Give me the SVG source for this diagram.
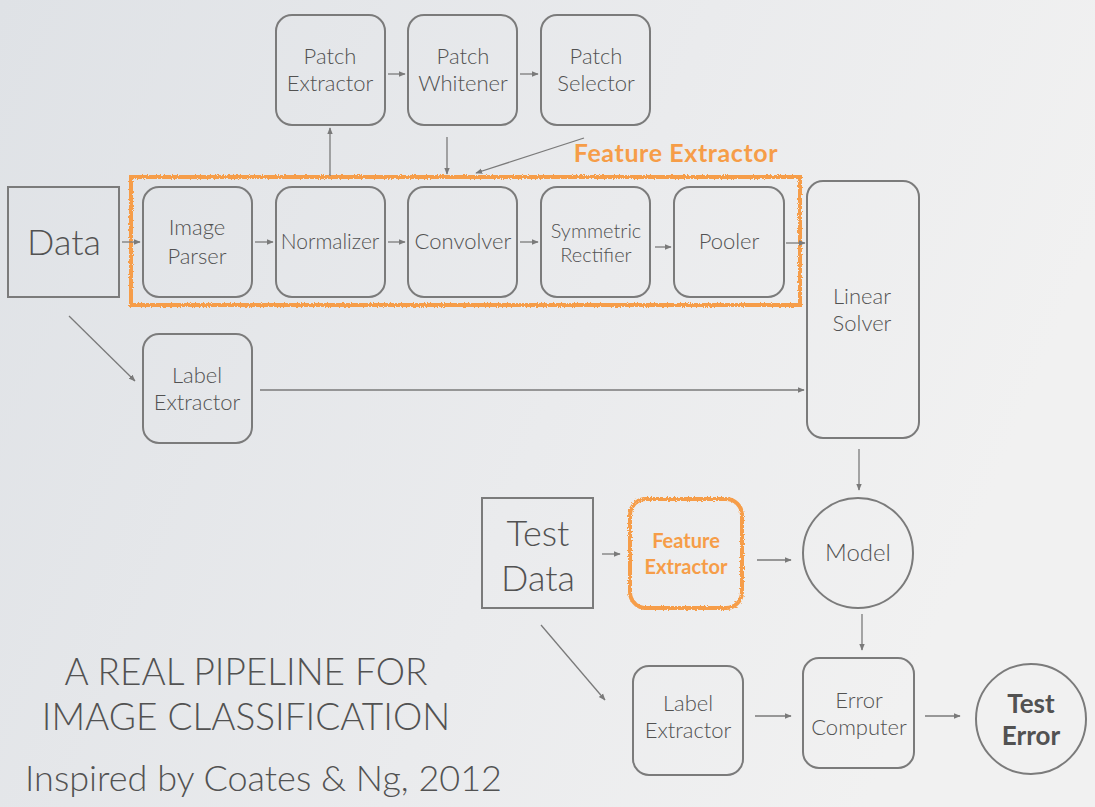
<svg xmlns="http://www.w3.org/2000/svg" width="1095" height="807" viewBox="0 0 1095 807">
<defs>
<linearGradient id="bg" x1="0" y1="0" x2="1" y2="0.3">
<stop offset="0" stop-color="#dfe2e6"/>
<stop offset="0.6" stop-color="#eaebed"/>
<stop offset="1" stop-color="#f1f1f1"/>
</linearGradient>
<marker id="ah" viewBox="0 0 10 10" refX="9" refY="5" markerWidth="7" markerHeight="7" markerUnits="userSpaceOnUse" orient="auto">
<path d="M0,1 L10,5 L0,9 z" fill="#7a7a7a"/>
</marker>
<filter id="rough" x="-5%" y="-5%" width="110%" height="110%">
<feTurbulence type="fractalNoise" baseFrequency="0.7" numOctaves="2" seed="3"/>
<feDisplacementMap in="SourceGraphic" scale="3.5"/>
</filter>
<style>
.box{fill:none;stroke:#7b7b7b;stroke-width:2}
.t{font-family:Lato,"Open Sans","DejaVu Sans",sans-serif;font-weight:300;fill:#525252;text-anchor:middle}
.n{font-size:22px}
.big{font-size:36px}
.or{fill:none;stroke:#f69d48;stroke-width:4}
.ot{font-family:Lato,"Open Sans","DejaVu Sans",sans-serif;font-weight:bold;fill:#f69d48;text-anchor:middle}
.c{stroke:#7a7a7a;stroke-width:1.3;fill:none;marker-end:url(#ah)}
</style>
</defs>
<rect x="0" y="0" width="1095" height="807" fill="url(#bg)"/>

<g id="feature-extractor-frame">
<rect class="or" x="131" y="177" width="669" height="128" filter="url(#rough)"/>
<text class="ot" x="676" y="162" font-size="25" letter-spacing="0.6">Feature Extractor</text>
</g>

<g id="patch-extractor"><rect class="box" x="276" y="15" width="109" height="110" rx="16"/><text class="t n" x="330" y="64">Patch</text><text class="t n" x="330" y="91">Extractor</text></g>
<g id="patch-whitener"><rect class="box" x="408" y="15" width="109" height="110" rx="16"/><text class="t n" x="463" y="64">Patch</text><text class="t n" x="463" y="91">Whitener</text></g>
<g id="patch-selector"><rect class="box" x="541" y="15" width="109" height="110" rx="16"/><text class="t n" x="596" y="64">Patch</text><text class="t n" x="596" y="91">Selector</text></g>

<g id="data"><rect class="box" x="8" y="187" width="111" height="110"/><text class="t big" x="64" y="255">Data</text></g>
<g id="image-parser"><rect class="box" x="143" y="187" width="109" height="110" rx="16"/><text class="t n" x="197" y="235">Image</text><text class="t n" x="197" y="264">Parser</text></g>
<g id="normalizer"><rect class="box" x="276" y="187" width="109" height="110" rx="16"/><text class="t" font-size="21" x="330" y="249">Normalizer</text></g>
<g id="convolver"><rect class="box" x="408" y="187" width="109" height="110" rx="16"/><text class="t n" x="463" y="249">Convolver</text></g>
<g id="symmetric-rectifier"><rect class="box" x="541" y="187" width="109" height="110" rx="16"/><text class="t" font-size="20" x="596" y="238">Symmetric</text><text class="t" font-size="20" x="596" y="262">Rectifier</text></g>
<g id="pooler"><rect class="box" x="674" y="187" width="110" height="110" rx="16"/><text class="t n" x="729" y="249">Pooler</text></g>
<g id="linear-solver"><rect class="box" x="807" y="181" width="112" height="257" rx="16"/><text class="t n" x="862" y="304">Linear</text><text class="t n" x="862" y="331">Solver</text></g>
<g id="label-extractor-1"><rect class="box" x="143" y="334" width="109" height="109" rx="16"/><text class="t n" x="197" y="383">Label</text><text class="t n" x="197" y="410">Extractor</text></g>

<g id="test-data"><rect class="box" x="482" y="498" width="111" height="110"/><text class="t big" x="538" y="546">Test</text><text class="t big" x="538" y="591">Data</text></g>
<g id="feature-extractor-2"><rect class="or" x="630" y="499" width="112" height="109" rx="16" filter="url(#rough)"/><text class="ot" font-size="20" x="686" y="548">Feature</text><text class="ot" font-size="20" x="686" y="574">Extractor</text></g>
<g id="model"><circle class="box" cx="858" cy="553" r="55"/><text class="t" font-size="24" x="858" y="561">Model</text></g>
<g id="label-extractor-2"><rect class="box" x="633" y="666" width="110" height="109" rx="16"/><text class="t n" x="688" y="711">Label</text><text class="t n" x="688" y="738">Extractor</text></g>
<g id="error-computer"><rect class="box" x="803" y="658" width="111" height="110" rx="16"/><text class="t n" x="859" y="708">Error</text><text class="t n" x="859" y="735">Computer</text></g>
<g id="test-error"><circle class="box" cx="1031" cy="719" r="55"/><text class="t" font-size="26" style="font-weight:bold" x="1031" y="713">Test</text><text class="t" font-size="26" style="font-weight:bold" x="1031" y="745">Error</text></g>

<g id="title">
<text class="t" font-size="37" x="246" y="685">A REAL PIPELINE FOR</text>
<text class="t" font-size="37" x="246" y="730">IMAGE CLASSIFICATION</text>
<text class="t" font-size="36" x="25" y="791" style="text-anchor:start">Inspired by Coates &amp; Ng, 2012</text>
</g>

<g id="connectors">
<line class="c" x1="122" y1="242" x2="140" y2="242"/>
<line class="c" x1="255" y1="242" x2="273" y2="242"/>
<line class="c" x1="388" y1="242" x2="405" y2="242"/>
<line class="c" x1="520" y1="242" x2="538" y2="242"/>
<line class="c" x1="655" y1="247" x2="671" y2="247"/>
<line class="c" x1="786" y1="243" x2="805" y2="243"/>
<line class="c" x1="330" y1="176" x2="330" y2="128"/>
<line class="c" x1="388" y1="74" x2="405" y2="74"/>
<line class="c" x1="520" y1="74" x2="538" y2="74"/>
<line class="c" x1="447" y1="137" x2="447" y2="174"/>
<line class="c" x1="584" y1="138" x2="476" y2="173"/>
<line class="c" x1="69" y1="316" x2="135" y2="381"/>
<line class="c" x1="260" y1="390" x2="804" y2="390"/>
<line class="c" x1="859" y1="449" x2="859" y2="490"/>
<line class="c" x1="602" y1="554" x2="620" y2="554"/>
<line class="c" x1="757" y1="560" x2="791" y2="560"/>
<line class="c" x1="862" y1="614" x2="862" y2="650"/>
<line class="c" x1="541" y1="625" x2="605" y2="700"/>
<line class="c" x1="755" y1="716" x2="791" y2="716"/>
<line class="c" x1="925" y1="716" x2="960" y2="716"/>
</g>
</svg>
